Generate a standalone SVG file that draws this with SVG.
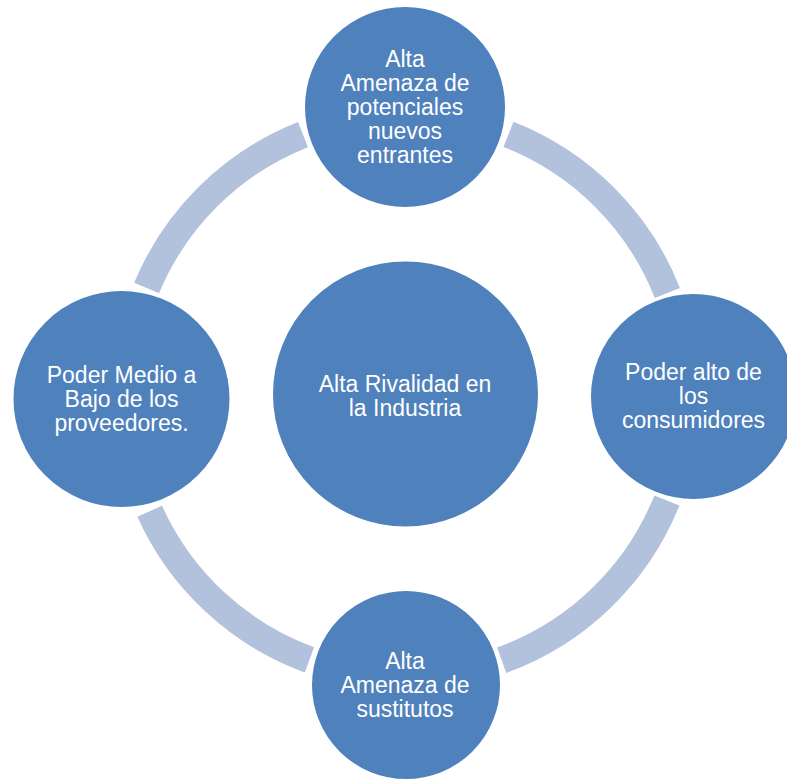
<svg xmlns="http://www.w3.org/2000/svg" width="787" height="779" viewBox="0 0 787 779">
  <style>
    .ring { fill: none; stroke: #b2c1dc; stroke-width: 27; stroke-linecap: butt; }
    .node { fill: #4f81bd; stroke: #ffffff; stroke-width: 2; }
    .label { fill: #ffffff; font-family: "Liberation Sans", Arial, sans-serif; font-size: 23px; text-anchor: middle; }
  </style>
  <rect width="787" height="779" fill="#ffffff"/>

  <!-- ring segments joining the outer forces -->
  <g id="connectors">
    <path class="ring" d="M 508.5 134.4 A 281 281 0 0 1 667.4 293.0"/>
    <path class="ring" d="M 666.9 500.4 A 281 281 0 0 1 501.7 660.2"/>
    <path class="ring" d="M 309.4 659.9 A 281 281 0 0 1 149.7 511.2"/>
    <path class="ring" d="M 146.6 288.0 A 281 281 0 0 1 303.0 134.6"/>
  </g>

  <g id="center">
    <circle class="node" cx="405.5" cy="394" r="133.5"/>
    <text class="label" x="405" y="392">Alta Rivalidad en</text>
    <text class="label" x="405" y="416">la Industria</text>
  </g>

  <g id="top">
    <circle class="node" cx="405" cy="107" r="101"/>
    <text class="label" x="405" y="67">Alta</text>
    <text class="label" x="405" y="91">Amenaza de</text>
    <text class="label" x="405" y="115">potenciales</text>
    <text class="label" x="405" y="139">nuevos</text>
    <text class="label" x="405" y="163">entrantes</text>
  </g>

  <g id="right">
    <circle class="node" cx="693.5" cy="396.5" r="103.5"/>
    <text class="label" x="693.5" y="380">Poder alto de</text>
    <text class="label" x="693.5" y="404">los</text>
    <text class="label" x="693.5" y="428">consumidores</text>
  </g>

  <g id="bottom">
    <circle class="node" cx="406" cy="685" r="95"/>
    <text class="label" x="405" y="669">Alta</text>
    <text class="label" x="405" y="693">Amenaza de</text>
    <text class="label" x="405" y="717">sustitutos</text>
  </g>

  <g id="left">
    <circle class="node" cx="121.5" cy="399" r="109"/>
    <text class="label" x="121.5" y="383">Poder Medio a</text>
    <text class="label" x="121.5" y="407">Bajo de los</text>
    <text class="label" x="121.5" y="431">proveedores.</text>
  </g>
</svg>
